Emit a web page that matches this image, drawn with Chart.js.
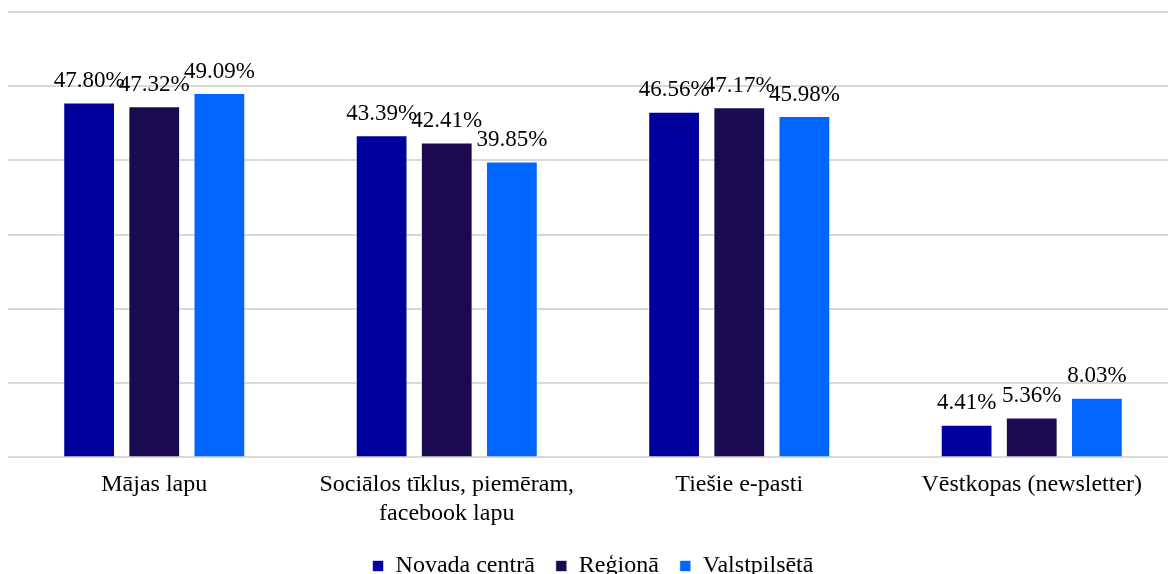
<!DOCTYPE html>
<html>
<head>
<meta charset="utf-8">
<script src="https://cdn.jsdelivr.net/npm/chart.js@4"></script>
<style>
  html, body { margin: 0; padding: 0; background: #fff; overflow: hidden; }
  #wrap { width: 1178px; height: 574px; }
</style>
</head>
<body>
<div id="wrap"><canvas id="barChart"></canvas></div>
<script>
const categories = [
    'Mājas lapu',
    ['Sociālos tīklus, piemēram,', 'facebook lapu'],
    'Tiešie e-pasti',
    'Vēstkopas (newsletter)'
];
const seriesNames = ['Novada centrā', 'Reģionā', 'Valstpilsētā'];
const novadaCentra = [47.80, 43.39, 46.56, 4.41];
const regiona = [47.32, 42.41, 47.17, 5.36];
const valstpilseta = [49.09, 39.85, 45.98, 8.03];
const colors = ['#00009C', '#1B0A50', '#0066FF'];

const serif = "'Liberation Serif', 'Times New Roman', serif";

// draws the percentage above every bar
const valueLabels = {
    id: 'valueLabels',
    afterDatasetsDraw(chart) {
        const ctx = chart.ctx;
        ctx.save();
        ctx.font = '23px ' + serif;
        ctx.fillStyle = '#000';
        ctx.textAlign = 'center';
        ctx.textBaseline = 'bottom';
        chart.data.datasets.forEach((ds, i) => {
            chart.getDatasetMeta(i).data.forEach((bar, j) => {
                ctx.fillText(ds.data[j].toFixed(2) + '%', bar.x, bar.y - 10);
            });
        });
        ctx.restore();
    }
};

const data = {
    labels: categories,
    datasets: [novadaCentra, regiona, valstpilseta].map((vals, i) => ({
        label: seriesNames[i],
        data: vals,
        backgroundColor: colors[i],
        borderColor: 'rgba(255,255,255,0.6)',
        borderWidth: 1,
        categoryPercentage: 0.668,
        barPercentage: 0.795
    }))
};

const config = {
    type: 'bar',
    data: data,
    options: {
        responsive: true,
        maintainAspectRatio: false,
        animation: false,
        layout: { padding: { left: 8, right: 0, top: 12, bottom: -14 } },
        plugins: {
            legend: {
                position: 'bottom',
                labels: {
                    usePointStyle: true,
                    pointStyle: 'rect',
                    boxWidth: 11,
                    boxHeight: 11,
                    padding: 21,
                    color: '#000',
                    font: { family: serif, size: 24 }
                }
            },
            tooltip: { enabled: false }
        },
        scales: {
            x: {
                grid: { display: false },
                border: { display: false },
                ticks: {
                    color: '#000',
                    font: { family: serif, size: 24 },
                    maxRotation: 0,
                    padding: 5
                }
            },
            y: {
                min: 0,
                max: 60,
                ticks: { display: false, stepSize: 10 },
                grid: { color: '#d9d9d9', lineWidth: 2, drawTicks: false },
                border: { display: false }
            }
        }
    },
    plugins: [valueLabels]
};

new Chart(document.getElementById('barChart').getContext('2d'), config);
</script>
</body>
</html>
